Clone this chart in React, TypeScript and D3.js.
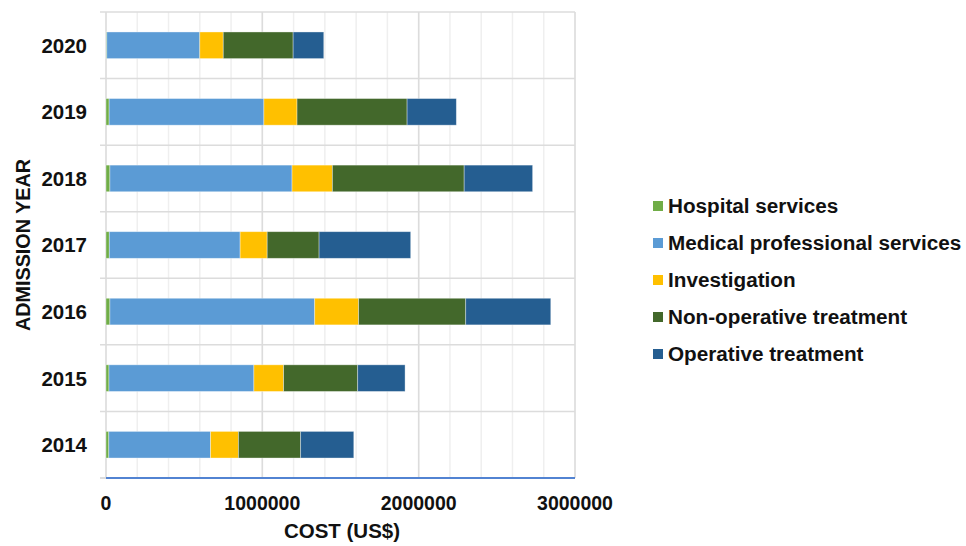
import React from "react";
import * as d3 from "d3";

// Admission years (bottom to top)
const years = ["2014", "2015", "2016", "2017", "2018", "2019", "2020"];

// Cost components per year, US$
const hospitalServices = [18000, 19000, 25000, 21000, 25000, 20000, 5000];
const medicalProfessional = [651000, 927000, 1310000, 837000, 1165000, 990000, 595000];
const investigation = [178000, 190000, 281000, 173000, 258000, 212000, 150000];
const nonOperative = [398000, 474000, 685000, 332000, 843000, 704000, 447000];
const operative = [340000, 303000, 544000, 586000, 438000, 315000, 196000];

const seriesNames = [
  "Hospital services",
  "Medical professional services",
  "Investigation",
  "Non-operative treatment",
  "Operative treatment",
];
const seriesColors = ["#70AD47", "#5B9BD5", "#FFC000", "#43682B", "#255E91"];

const xTicks = [0, 1000000, 2000000, 3000000];
const xMinorTicks = d3.range(0, 3000001, 200000);

const W = 966;
const H = 546;
const plot = { left: 106, right: 575, top: 12, bottom: 478 };
const FONT = "'Liberation Sans', Arial, Helvetica, sans-serif";

export default function App() {
  const rows = years.map((y, i) => ({
    year: y,
    s0: hospitalServices[i],
    s1: medicalProfessional[i],
    s2: investigation[i],
    s3: nonOperative[i],
    s4: operative[i],
  }));
  const keys = ["s0", "s1", "s2", "s3", "s4"];
  const stacked = d3.stack<any>().keys(keys)(rows);

  const x = d3.scaleLinear().domain([0, 3000000]).range([plot.left, plot.right]);
  const y = d3
    .scaleBand<string>()
    .domain([...years].reverse())
    .range([plot.top, plot.bottom])
    .padding(0);
  const barH = y.bandwidth() * 0.4;
  const barOff = (y.bandwidth() - barH) / 2;

  const bandEdges = [...years].reverse().map((yr) => y(yr) as number);

  return (
    <svg
      width={W}
      height={H}
      style={{ position: "absolute", left: 0, top: 0, background: "#fff" }}
      fontFamily={FONT}
    >
      {/* minor vertical gridlines */}
      {xMinorTicks.map((t) => (
        <line
          key={"m" + t}
          x1={x(t)}
          x2={x(t)}
          y1={plot.top}
          y2={plot.bottom}
          stroke="#efefef"
          strokeWidth={1.5}
        />
      ))}
      {/* major vertical gridlines */}
      {xTicks.map((t) => (
        <line
          key={"M" + t}
          x1={x(t)}
          x2={x(t)}
          y1={plot.top}
          y2={plot.bottom}
          stroke="#dcdcdc"
          strokeWidth={1.5}
        />
      ))}
      {/* category separators */}
      {bandEdges.map((e, i) => (
        <line
          key={"h" + i}
          x1={plot.left - 6}
          x2={plot.right}
          y1={e}
          y2={e}
          stroke="#dcdcdc"
          strokeWidth={1.5}
        />
      ))}
      <line
        x1={plot.left - 6}
        x2={plot.left}
        y1={plot.bottom}
        y2={plot.bottom}
        stroke="#dcdcdc"
        strokeWidth={2}
      />

      {/* stacked bars */}
      {stacked.map((layer, li) => (
        <g key={layer.key} fill={seriesColors[li]}>
          {layer.map((d, i) => (
            <rect
              key={i}
              x={x(d[0])}
              y={(y(rows[i].year) as number) + barOff}
              width={Math.max(0, x(d[1]) - x(d[0]))}
              height={barH}
              stroke="rgba(255,255,255,0.45)"
              strokeWidth={0.8}
            />
          ))}
        </g>
      ))}

      {/* bottom axis line */}
      <line
        x1={plot.left}
        x2={plot.right}
        y1={plot.bottom}
        y2={plot.bottom}
        stroke="#5283d2"
        strokeWidth={2.2}
      />

      {/* x tick labels */}
      {xTicks.map((t) => (
        <text
          key={"xl" + t}
          x={x(t)}
          y={510}
          textAnchor="middle"
          fontSize={19.5}
          fontWeight="bold"
          fill="#111"
        >
          {t}
        </text>
      ))}

      {/* y tick labels */}
      {years.map((yr) => (
        <text
          key={"yl" + yr}
          x={87}
          y={(y(yr) as number) + y.bandwidth() / 2}
          dy="0.36em"
          textAnchor="end"
          fontSize={20.5}
          fontWeight="bold"
          fill="#111"
        >
          {yr}
        </text>
      ))}

      {/* axis titles */}
      <text
        x={342}
        y={538}
        textAnchor="middle"
        fontSize={20.5}
        fontWeight="bold"
        fill="#111"
      >
        COST (US$)
      </text>
      <text
        transform={`translate(30,${(plot.top + plot.bottom) / 2}) rotate(-90)`}
        textAnchor="middle"
        fontSize={19.8}
        fontWeight="bold"
        fill="#111"
      >
        ADMISSION YEAR
      </text>

      {/* legend */}
      {seriesNames.map((name, i) => {
        const cy = 206 + i * 37;
        return (
          <g key={name}>
            <rect x={653} y={cy - 5} width={10} height={10} fill={seriesColors[i]} />
            <text
              x={668}
              y={cy}
              dy="0.36em"
              fontSize={20.7}
              fontWeight="bold"
              fill="#111"
            >
              {name}
            </text>
          </g>
        );
      })}
    </svg>
  );
}
